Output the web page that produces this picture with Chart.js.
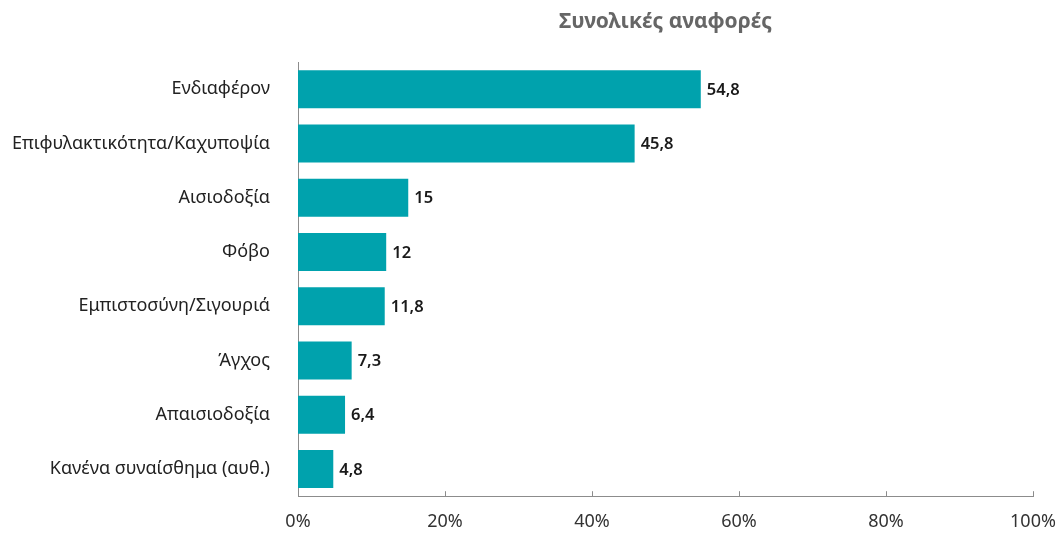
<!DOCTYPE html>
<html>
<head>
<meta charset="utf-8">
<script src="https://cdn.jsdelivr.net/npm/chart.js@4"></script>
<style>
  html, body { margin: 0; padding: 0; background: #fff; }
  #wrap { width: 1063px; height: 535px; position: relative; }
</style>
</head>
<body>
<div id="wrap"><canvas id="grafico"></canvas></div>
<script>
// Dados do gráfico
const categorias = ['Ενδιαφέρον', 'Επιφυλακτικότητα/Καχυποψία', 'Αισιοδοξία', 'Φόβο',
  'Εμπιστοσύνη/Σιγουριά', 'Άγχος', 'Απαισιοδοξία', 'Κανένα συναίσθημα (αυθ.)'];
const valores = [54.8, 45.8, 15, 12, 11.8, 7.3, 6.4, 4.8];
const ticksX = [0, 20, 40, 60, 80, 100];
const titulo = 'Συνολικές αναφορές';

const fonte = "'Noto Sans', 'DejaVu Sans', sans-serif";

// Título centrado sobre a área do gráfico
const tituloPlugin = {
  id: 'tituloArea',
  afterDraw(chart) {
    const ctx = chart.ctx;
    const area = chart.chartArea;
    ctx.save();
    ctx.font = 'bold 21px ' + fonte;
    ctx.fillStyle = '#666';
    ctx.textAlign = 'center';
    ctx.textBaseline = 'middle';
    ctx.fillText(titulo, (area.left + area.right) / 2, 22);
    ctx.restore();
  }
};

// Rótulos de valor ao lado das barras
const rotulosPlugin = {
  id: 'rotulos',
  afterDatasetsDraw(chart) {
    const ctx = chart.ctx;
    const meta = chart.getDatasetMeta(0);
    ctx.save();
    ctx.font = '600 16.5px ' + fonte;
    ctx.fillStyle = '#1a1a1a';
    ctx.textBaseline = 'middle';
    ctx.textAlign = 'left';
    meta.data.forEach((bar, i) => {
      const txt = String(valores[i]).replace('.', ',');
      ctx.fillText(txt, bar.x + 6, bar.y + 1);
    });
    ctx.restore();
  }
};

// Pequenas marcas para cima no eixo X
const marcasPlugin = {
  id: 'marcas',
  afterDraw(chart) {
    const ctx = chart.ctx;
    const sx = chart.scales.x;
    const y = chart.chartArea.bottom;
    ctx.save();
    ctx.strokeStyle = '#8c8c8c';
    ctx.lineWidth = 1;
    ticksX.forEach(v => {
      if (v === 0) return;
      const x = Math.round(sx.getPixelForValue(v)) + 0.5;
      ctx.beginPath();
      ctx.moveTo(x, y);
      ctx.lineTo(x, y - 5);
      ctx.stroke();
    });
    ctx.restore();
  }
};

const ctx = document.getElementById('grafico').getContext('2d');
new Chart(ctx, {
  type: 'bar',
  data: {
    labels: categorias,
    datasets: [{
      data: valores,
      backgroundColor: '#00A2AD',
      barPercentage: 0.7,
      categoryPercentage: 1
    }]
  },
  options: {
    indexAxis: 'y',
    responsive: true,
    maintainAspectRatio: false,
    animation: false,
    layout: { padding: { left: 0, right: 30, top: 62, bottom: 0 } },
    plugins: {
      legend: { display: false },
      tooltip: { enabled: false },
      title: { display: false }
    },
    scales: {
      x: {
        min: 0,
        max: 100,
        afterBuildTicks: scale => { scale.ticks = ticksX.map(v => ({ value: v })); },
        afterFit: scale => {
          scale.height = 36;
          scale.paddingLeft = 0;
          scale.paddingRight = 0;
        },
        ticks: {
          color: '#333',
          font: { family: fonte, size: 18 },
          padding: 15,
          maxRotation: 0,
          callback: v => v + '%'
        },
        grid: { display: false, drawTicks: false },
        border: { display: true, color: '#8c8c8c', width: 1 }
      },
      y: {
        afterFit: scale => { scale.width = 298; },
        ticks: {
          color: '#222',
          font: { family: fonte, size: 18 },
          padding: 28
        },
        grid: { display: false, drawTicks: false },
        border: { display: true, color: '#8c8c8c', width: 1 }
      }
    }
  },
  plugins: [tituloPlugin, rotulosPlugin, marcasPlugin]
});
</script>
</body>
</html>
